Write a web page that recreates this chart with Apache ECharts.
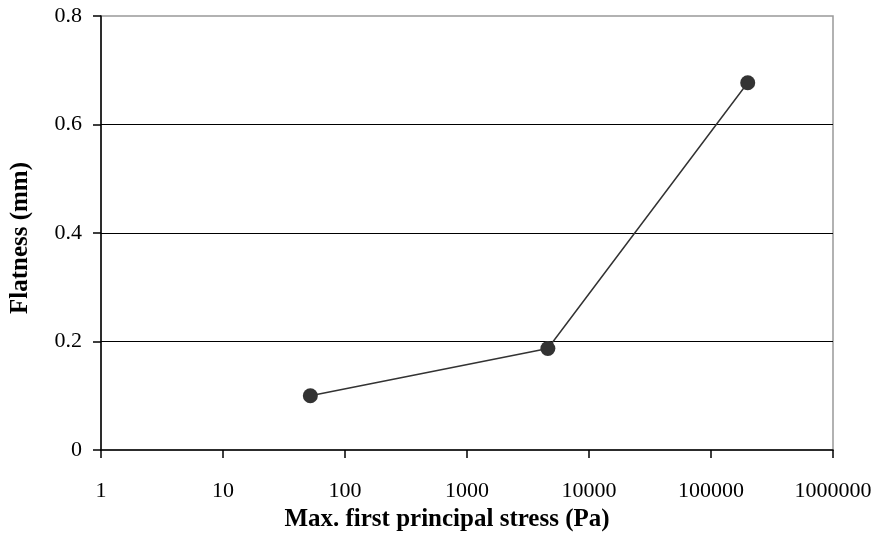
<!DOCTYPE html>
<html>
<head>
<meta charset="utf-8">
<script src="https://cdn.jsdelivr.net/npm/echarts@6/dist/echarts.min.js"></script>
<style>html,body{margin:0;padding:0;background:#fff;}#c{width:876px;height:533px;}</style>
</head>
<body>
<div id="c"></div>
<script>
var stress = [52, 4600, 200000];
var flatness = [0.10, 0.187, 0.677];
var xTicks = [1, 10, 100, 1000, 10000, 100000, 1000000];
var yTicks = [0, 0.2, 0.4, 0.6, 0.8];
var xTitle = 'Max. first principal stress (Pa)';
var yTitle = 'Flatness (mm)';

var points = stress.map(function (s, i) { return [s, flatness[i]]; });
var font = '"Liberation Serif", "Times New Roman", serif';

var chart = echarts.init(document.getElementById('c'));
chart.setOption({
  animation: false,
  backgroundColor: '#fff',
  grid: {
    left: 101, right: 43, top: 16, bottom: 83,
    outerBoundsMode: 'none', containLabel: false,
    show: true, borderColor: '#999', borderWidth: 1.5, backgroundColor: 'transparent'
  },
  xAxis: {
    type: 'log', logBase: 10,
    min: xTicks[0], max: xTicks[xTicks.length - 1],
    name: xTitle, nameLocation: 'middle', nameGap: 46,
    nameTextStyle: { fontFamily: font, fontSize: 25, fontWeight: 'bold', color: '#000', padding: [0, 40, 0, 0] },
    axisLine: { show: true, lineStyle: { color: '#000', width: 1.5 } },
    axisTick: { show: true, inside: false, length: 8, lineStyle: { color: '#000', width: 1.5 } },
    minorTick: { show: false },
    axisLabel: {
      fontFamily: font, fontSize: 22, color: '#000', margin: 30,
      formatter: function (v) { return String(Math.round(v)); }
    },
    splitLine: { show: false }
  },
  yAxis: {
    type: 'value', min: yTicks[0], max: yTicks[yTicks.length - 1], interval: 0.2,
    name: yTitle, nameLocation: 'middle', nameGap: 68, nameRotate: 90,
    nameTextStyle: { fontFamily: font, fontSize: 25, fontWeight: 'bold', color: '#000', padding: [0, 10, 0, 0] },
    axisLine: { show: true, lineStyle: { color: '#000', width: 1.5 } },
    axisTick: { show: true, inside: false, length: 8, lineStyle: { color: '#000', width: 1.5 } },
    axisLabel: {
      fontFamily: font, fontSize: 22, color: '#000', margin: 19,
      formatter: function (v) { return String(Math.round(v * 10) / 10); }
    },
    splitLine: { show: true, showMinLine: false, showMaxLine: false, lineStyle: { color: '#000', width: 1.2 } }
  },
  series: [{
    type: 'line',
    data: points,
    symbol: 'circle',
    symbolSize: 15,
    itemStyle: { color: '#333' },
    lineStyle: { color: '#333', width: 1.5 }
  }]
});
</script>
</body>
</html>
